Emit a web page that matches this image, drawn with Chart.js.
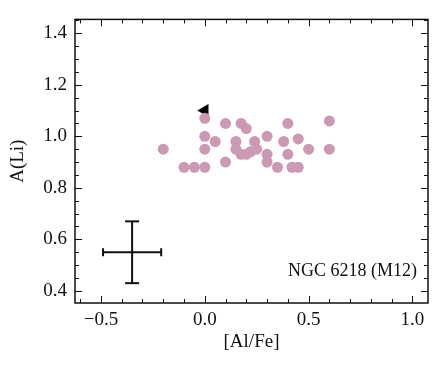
<!DOCTYPE html>
<html>
<head>
<meta charset="utf-8">
<script src="https://cdn.jsdelivr.net/npm/chart.js@4/dist/chart.umd.min.js"></script>
<style>
  html, body { margin: 0; padding: 0; background: #fff; }
  #wrap { width: 436px; height: 370px; }
</style>
</head>
<body>
<div id="wrap"><canvas id="chart-ali"></canvas></div>
<script>
// ─── Data: [Al/Fe] vs A(Li), NGC 6218 (M12) ───
const alFe = [-0.20, -0.10, -0.05, 0.00, 0.00, 0.00, 0.00, 0.05, 0.10, 0.10,
              0.175, 0.20, 0.15, 0.15, 0.175, 0.20, 0.24, 0.25, 0.22, 0.30,
              0.30, 0.30, 0.35, 0.38, 0.40, 0.40, 0.42, 0.45, 0.45, 0.50,
              0.60, 0.60];
const aLi  = [0.95, 0.88, 0.88, 0.88, 0.95, 1.00, 1.07, 0.98, 0.90, 1.05,
              1.05, 1.03, 0.98, 0.95, 0.93, 0.93, 0.98, 0.95, 0.94, 1.00,
              0.93, 0.90, 0.88, 0.98, 1.05, 0.93, 0.88, 0.88, 0.99, 0.95,
              1.06, 0.95];
// upper limit
const limAlFe = [0.00];
const limALi  = [1.10];
// typical error bar
const errAlFe = -0.35, errALi = 0.55, errDx = 0.14, errDy = 0.12;
const clusterLabel = 'NGC 6218 (M12)';

const FONT = '"Liberation Serif", "DejaVu Serif", serif';
const INK = '#111';

const fmt = v => v.toFixed(1).replace('-', '\u2212');

// inward ticks on all four sides + frame
const frameTicks = {
    id: 'frameTicks',
    afterDatasetsDraw(chart) {
        const { ctx, chartArea: a, scales: { x, y } } = chart;
        ctx.save();
        ctx.strokeStyle = INK;
        ctx.lineWidth = 1;
        const tick = (x1, y1, x2, y2) => {
            ctx.beginPath(); ctx.moveTo(x1, y1); ctx.lineTo(x2, y2); ctx.stroke();
        };
        for (let i = -6; i <= 10; i++) {
            const v = i / 10;
            const px = Math.round(x.getPixelForValue(v)) + 0.5;
            if (px < a.left || px > a.right) continue;
            const len = (i % 5 === 0) ? 7 : 4;
            tick(px, a.bottom, px, a.bottom - len);
            tick(px, a.top, px, a.top + len);
        }
        for (let i = 7; i <= 29; i++) {
            const v = i / 20;
            const py = Math.round(y.getPixelForValue(v)) + 0.5;
            if (py < a.top || py > a.bottom) continue;
            const len = (i % 4 === 0) ? 7 : 4;
            tick(a.left, py, a.left + len, py);
            tick(a.right, py, a.right - len, py);
        }
        ctx.lineWidth = 1.5;
        ctx.strokeRect(a.left, a.top, a.right - a.left, a.bottom - a.top);

        // error bar
        const cx = x.getPixelForValue(errAlFe), cy = y.getPixelForValue(errALi);
        const x0 = x.getPixelForValue(errAlFe - errDx), x1 = x.getPixelForValue(errAlFe + errDx);
        const y0 = y.getPixelForValue(errALi + errDy), y1 = y.getPixelForValue(errALi - errDy);
        ctx.lineWidth = 2;
        tick(x0, cy, x1, cy);
        tick(cx, y0, cx, y1);
        tick(x0, cy - 4, x0, cy + 4);
        tick(x1, cy - 4, x1, cy + 4);
        tick(cx - 7, y0, cx + 7, y0);
        tick(cx - 7, y1, cx + 7, y1);

        // cluster label
        ctx.fillStyle = INK;
        ctx.font = '18px ' + FONT;
        ctx.textAlign = 'right';
        ctx.textBaseline = 'middle';
        ctx.fillText(clusterLabel, a.right - 11, y.getPixelForValue(0.475));
        ctx.restore();
    }
};

new Chart(document.getElementById('chart-ali'), {
    type: 'scatter',
    data: {
        datasets: [{
            data: alFe.map((v, i) => ({ x: v, y: aLi[i] })),
            backgroundColor: 'rgb(204,153,180)',
            borderWidth: 0,
            pointRadius: 5.5,
            pointHoverRadius: 5.5,
        }, {
            data: limAlFe.map((v, i) => ({ x: v, y: limALi[i] })),
            pointStyle: 'triangle',
            rotation: -90,
            backgroundColor: '#000',
            borderColor: '#000',
            borderWidth: 0,
            pointRadius: 7.5,
        }]
    },
    options: {
        responsive: true,
        maintainAspectRatio: false,
        animation: false,
        layout: { padding: { top: 14, right: 8, left: 0, bottom: 0 } },
        plugins: {
            legend: { display: false },
            tooltip: { enabled: false },
        },
        scales: {
            x: {
                type: 'linear',
                min: -0.625,
                max: 1.075,
                grid: { display: false, drawTicks: false },
                border: { display: false },
                ticks: {
                    stepSize: 0.5,
                    includeBounds: false,
                    padding: 6,
                    color: INK,
                    font: { family: FONT, size: 19 },
                    callback: fmt,
                },
                title: {
                    display: true,
                    text: '[Al/Fe]',
                    color: INK,
                    font: { family: FONT, size: 19 },
                    padding: { top: 0, bottom: 17 },
                },
                afterFit(s) { s.height = 67; },
            },
            y: {
                type: 'linear',
                min: 0.353,
                max: 1.454,
                grid: { display: false, drawTicks: false },
                border: { display: false },
                ticks: {
                    stepSize: 0.2,
                    includeBounds: false,
                    padding: 8,
                    color: INK,
                    font: { family: FONT, size: 19 },
                    callback: fmt,
                },
                title: {
                    display: true,
                    text: 'A(Li)',
                    color: INK,
                    font: { family: FONT, size: 19 },
                    padding: { top: 7, bottom: 0 },
                },
                afterFit(s) { s.width = 75; },
            }
        }
    },
    plugins: [frameTicks]
});
</script>
</body>
</html>
